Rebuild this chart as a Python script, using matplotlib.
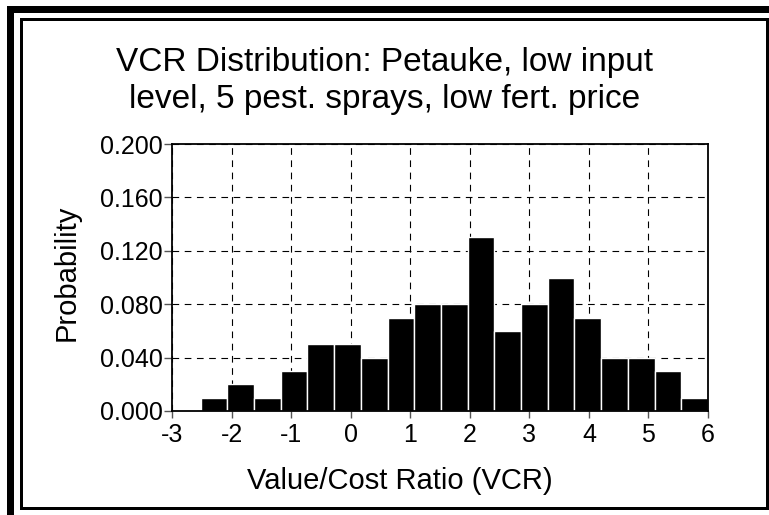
import matplotlib
matplotlib.use("Agg")
import matplotlib.pyplot as plt
import numpy as np
from matplotlib.patches import Rectangle

# histogram data
bin_start = -2.52
bin_end = 6.0
probs = [0.01, 0.02, 0.01, 0.03, 0.05, 0.05, 0.04, 0.07, 0.08, 0.08,
         0.13, 0.06, 0.08, 0.10, 0.07, 0.04, 0.04, 0.03, 0.01]
x_ticks = [-3, -2, -1, 0, 1, 2, 3, 4, 5, 6]
y_ticks = [0.0, 0.04, 0.08, 0.12, 0.16, 0.20]
title_lines = ["VCR Distribution: Petauke, low input",
               "level, 5 pest. sprays, low fert. price"]

W, H = 769, 515
plt.rcParams["font.family"] = ["Liberation Sans", "DejaVu Sans"]

fig = plt.figure(figsize=(W / 100, H / 100), dpi=100)

# double frame around the chart
fig.patches.append(Rectangle((9.5 / W, 1 - 540 / H), 800 / W, 531 / H,
                             transform=fig.transFigure, fill=False,
                             edgecolor="black", linewidth=7 * 0.72))
fig.patches.append(Rectangle((20.5 / W, 1 - 507.5 / H), 746 / W, 489 / H,
                             transform=fig.transFigure, fill=False,
                             edgecolor="black", linewidth=3 * 0.72))

left, right, top, bottom = 172, 708, 144, 411
ax = fig.add_axes([left / W, 1 - bottom / H, (right - left) / W, (bottom - top) / H])

edges = np.linspace(bin_start, bin_end, len(probs) + 1)
ax.bar(edges[:-1], probs, width=np.diff(edges), align="edge",
       color="black", edgecolor="white", linewidth=1.0, zorder=2)

ax.set_xlim(-3, 6)
ax.set_ylim(0, 0.2)
ax.set_xticks(x_ticks)
ax.set_xticklabels([str(t) for t in x_ticks])
ax.set_yticks(y_ticks)
ax.set_yticklabels([f"{t:.3f}" for t in y_ticks])
ax.set_axisbelow(True)
ax.grid(True, color="black", linestyle=(0, (6, 5)), linewidth=0.8)
for sp in ax.spines.values():
    sp.set_linewidth(1.3)
    sp.set_zorder(3)
ax.tick_params(axis="y", direction="out", length=6, width=1, pad=0.5,
               labelsize=18, color="#555555")
ax.tick_params(axis="x", direction="out", length=5, width=1, pad=4,
               labelsize=18, color="#555555")

fig.text(0.5, 1 - 71 / H, title_lines[0], ha="center", va="baseline", fontsize=24)
fig.text(0.5, 1 - 108 / H, title_lines[1], ha="center", va="baseline", fontsize=24)
fig.text(400 / W, 1 - 489 / H, "Value/Cost Ratio (VCR)", ha="center", va="baseline", fontsize=21)
fig.text(67 / W, 1 - 273 / H, "Probability", ha="center", va="center",
         rotation=90, fontsize=21)

fig.savefig("out.png", dpi=100)
